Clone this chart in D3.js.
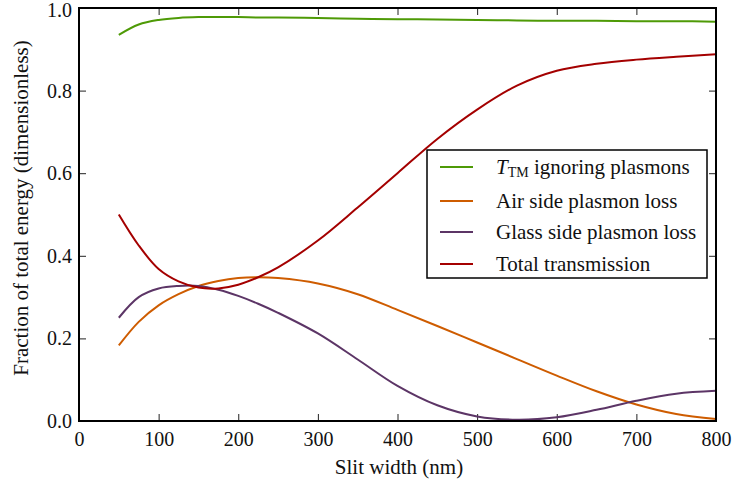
<!DOCTYPE html>
<html>
<head>
<meta charset="utf-8">
<script src="https://cdn.jsdelivr.net/npm/d3@7"></script>
<style>
  body { margin: 0; background: #fff; }
  text { font-family: "Liberation Serif", "DejaVu Serif", serif; fill: #111; }
</style>
</head>
<body>
<script>
// slit widths (nm)
var widths = [50, 75, 100, 125, 150, 175, 200, 225, 250, 300, 350, 400, 450, 500, 550, 600, 650, 700, 750, 800];

var tTM   = [0.935, 0.960, 0.971, 0.976, 0.978, 0.978, 0.978, 0.977, 0.977, 0.976, 0.974, 0.973, 0.972, 0.971, 0.970, 0.969, 0.969, 0.968, 0.968, 0.967];
var air   = [0.183, 0.240, 0.280, 0.307, 0.327, 0.339, 0.346, 0.348, 0.346, 0.333, 0.307, 0.269, 0.230, 0.190, 0.150, 0.110, 0.072, 0.040, 0.017, 0.005];
var glass = [0.250, 0.300, 0.321, 0.327, 0.327, 0.318, 0.303, 0.284, 0.262, 0.212, 0.149, 0.085, 0.038, 0.011, 0.003, 0.009, 0.027, 0.049, 0.066, 0.073];
var total = [0.500, 0.425, 0.368, 0.338, 0.323, 0.321, 0.330, 0.348, 0.372, 0.437, 0.517, 0.600, 0.683, 0.754, 0.812, 0.848, 0.865, 0.875, 0.882, 0.888];

var seriesNames = ["ignoring plasmons", "Air side plasmon loss", "Glass side plasmon loss", "Total transmission"];
var seriesColors = ["#4e9a06", "#ce5c00", "#5c3566", "#a40000"];
var seriesData = [tTM, air, glass, total];

var xTicks = [0, 100, 200, 300, 400, 500, 600, 700, 800];
var yTicks = [0.0, 0.2, 0.4, 0.6, 0.8, 1.0];

var W = 739, H = 484;
var pLeft = 79, pRight = 716, pTop = 8, pBottom = 421;

var svg = d3.select("body").append("svg")
    .attr("width", W)
    .attr("height", H);

var x = d3.scaleLinear().domain([0, 800]).range([pLeft, pRight]);
var y = d3.scaleLinear().domain([0, 1]).range([pBottom, pTop]);

// inward ticks on all four sides
svg.append("g").attr("transform", "translate(0," + pBottom + ")")
    .call(d3.axisBottom(x).tickValues(xTicks).tickSizeInner(-7).tickSizeOuter(0).tickPadding(11).tickFormat(d3.format("d")))
    .call(g => g.select(".domain").remove());
svg.append("g").attr("transform", "translate(0," + pTop + ")")
    .call(d3.axisTop(x).tickValues(xTicks).tickSizeInner(-7).tickSizeOuter(0).tickFormat(""))
    .call(g => g.select(".domain").remove());
svg.append("g").attr("transform", "translate(" + pLeft + ",0)")
    .call(d3.axisLeft(y).tickValues(yTicks).tickSizeInner(-7).tickSizeOuter(0).tickPadding(7).tickFormat(d3.format(".1f")))
    .call(g => g.select(".domain").remove())
    .call(g => g.selectAll(".tick text").filter(d => d === 1).attr("dy", "0.42em"));
svg.append("g").attr("transform", "translate(" + pRight + ",0)")
    .call(d3.axisRight(y).tickValues(yTicks).tickSizeInner(-7).tickSizeOuter(0).tickFormat(""))
    .call(g => g.select(".domain").remove());

svg.selectAll(".tick line").attr("stroke", "#222").attr("stroke-width", 1);
svg.selectAll(".tick text").style("font-size", "20px").attr("fill", "#111")
    .style("font-family", "'Liberation Serif', 'DejaVu Serif', serif");

var line = d3.line()
    .x((d, i) => x(widths[i]))
    .y(d => y(d))
    .curve(d3.curveCatmullRom.alpha(0.5));

seriesData.forEach(function (s, k) {
    svg.append("path")
        .datum(s)
        .attr("d", line)
        .attr("fill", "none")
        .attr("stroke", seriesColors[k])
        .attr("stroke-width", 2);
});

// frame
svg.append("rect")
    .attr("x", pLeft).attr("y", pTop)
    .attr("width", pRight - pLeft).attr("height", pBottom - pTop)
    .attr("fill", "none").attr("stroke", "#000").attr("stroke-width", 2);

// axis labels
svg.append("text")
    .attr("x", 399).attr("y", 474)
    .attr("text-anchor", "middle")
    .style("font-size", "21px")
    .text("Slit width (nm)");

svg.append("text")
    .attr("transform", "translate(28,208) rotate(-90)")
    .attr("text-anchor", "middle")
    .style("font-size", "21px")
    .text("Fraction of total energy (dimensionless)");

// legend
var lg = svg.append("g");
lg.append("rect")
    .attr("x", 427).attr("y", 150)
    .attr("width", 280).attr("height", 128)
    .attr("fill", "#fff").attr("stroke", "#000").attr("stroke-width", 1.5);

var legendY = [167, 201, 232, 264];
seriesNames.forEach(function (name, k) {
    lg.append("line")
        .attr("x1", 440).attr("x2", 473)
        .attr("y1", legendY[k]).attr("y2", legendY[k])
        .attr("stroke", seriesColors[k]).attr("stroke-width", 2);
    var t = lg.append("text")
        .attr("x", 496).attr("y", legendY[k] + 7)
        .style("font-size", "21px");
    if (k === 0) {
        t.append("tspan").style("font-style", "italic").text("T");
        t.append("tspan").attr("dy", 3).style("font-size", "14px").text("TM");
        t.append("tspan").attr("dy", -3).text(" " + name);
    } else {
        t.text(name);
    }
});
</script>
</body>
</html>
